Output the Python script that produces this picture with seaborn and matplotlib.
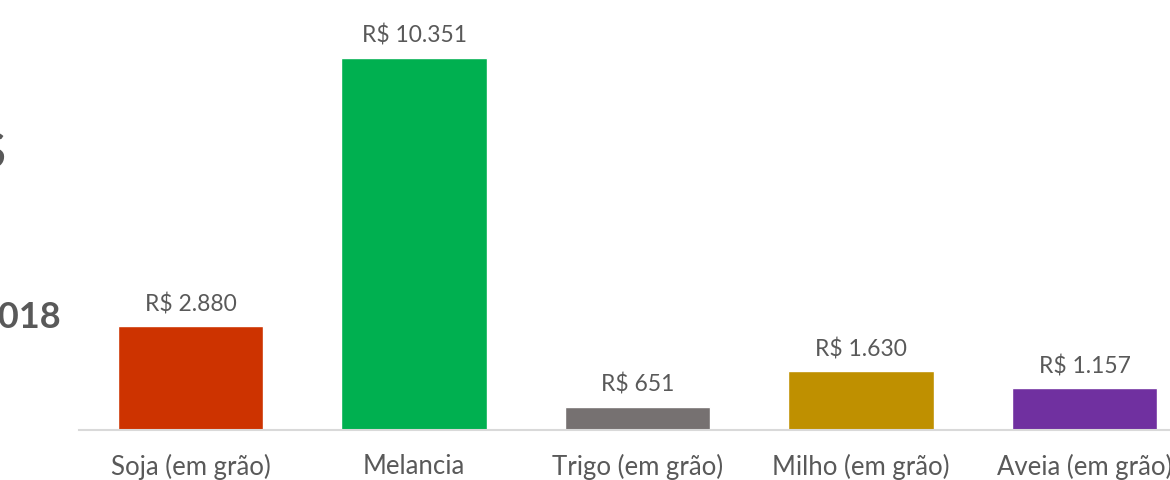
import matplotlib
matplotlib.use("Agg")
import matplotlib.pyplot as plt
import seaborn as sns
import pandas as pd

# data
culturas = ["Soja (em grão)", "Melancia", "Trigo (em grão)", "Milho (em grão)", "Aveia (em grão)"]
valores = [2880, 10351, 651, 1630, 1157]
cores = ["#CD3300", "#00B050", "#767171", "#BF9000", "#7030A0"]
rotulos = ["R$ 2.880", "R$ 10.351", "R$ 651", "R$ 1.630", "R$ 1.157"]

df = pd.DataFrame({"cultura": culturas, "valor": valores})

sns.set_style("white")
plt.rcParams["font.family"] = ["Lato", "DejaVu Sans"]
cinza = "#595959"

W, H = 1170, 480
fig = plt.figure(figsize=(W / 100, H / 100), dpi=100)
px_per_unit = 372 / 10351
ymax = 12000
ax = fig.add_axes([78.75 / W, 50 / H, 1117.5 / W, ymax * px_per_unit / H])

sns.barplot(data=df, x="cultura", y="valor", hue="cultura", palette=cores,
            width=0.65, saturation=1, legend=False, ax=ax)
ax.set_xlim(-0.5, 4.5)
ax.set_ylim(0, ymax)

for i, v in enumerate(valores):
    ax.annotate(rotulos[i], (i, v), xytext=(0, 8), textcoords="offset points",
                ha="center", va="bottom", fontsize=16.5, color=cinza)

for s in ["top", "right", "left"]:
    ax.spines[s].set_visible(False)
ax.spines["bottom"].set_color("#D9D9D9")
ax.spines["bottom"].set_linewidth(1.5)
ax.set_yticks([])
ax.set_xlabel("")
ax.set_ylabel("")
ax.tick_params(axis="x", length=0, pad=17, labelsize=18.5, labelcolor=cinza)

# cut-off title fragments at the left edge
fig.text(6 / W, 1 - 152 / H, "R$", ha="right", va="center", fontsize=36,
         fontweight="bold", color=cinza)
fig.text(61 / W, 1 - 318 / H, "2018", ha="right", va="center", fontsize=26,
         fontweight="bold", color=cinza)

fig.savefig("out.png", dpi=100)
